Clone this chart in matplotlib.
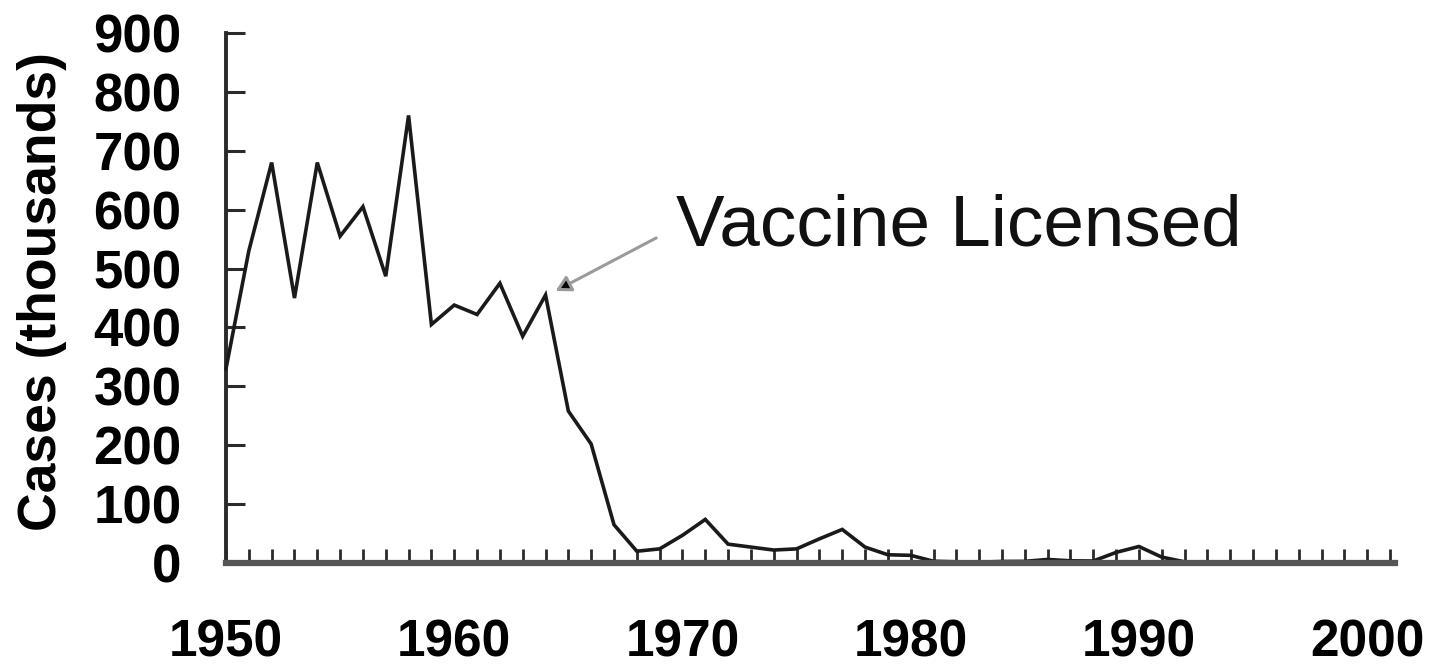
import matplotlib
matplotlib.use("Agg")
import matplotlib.pyplot as plt

years = list(range(1950, 2001))
cases = [330, 530, 680, 450, 680, 555, 605, 487, 760, 405,
         438, 422, 475, 385, 455, 258, 202, 65, 20, 24,
         47, 74, 32, 27, 22, 24, 41, 57, 27, 14,
         13, 3, 2, 1.5, 2.6, 2.8, 6, 3.7, 3.4, 18,
         28, 10, 2, 0.3, 1, 0.3, 0.5, 0.1, 0.1, 0.1, 0.1]
yticks = [0, 100, 200, 300, 400, 500, 600, 700, 800, 900]
tick_years = list(range(1950, 2002))
xlabels = [1950, 1960, 1970, 1980, 1990, 2000]
annot_text = "Vaccine Licensed"
annot_point = (1964.44, 462)
annot_tail = (1968.85, 552)
annot_textpos = (1969.72, 540)

W, H = 1430, 669
fig = plt.figure(figsize=(W / 100, H / 100), dpi=100)
fig.patch.set_facecolor("white")
ax = fig.add_axes([226 / W, 1 - 563 / H, (1395 - 226) / W, (563 - 33) / H])

ax.plot(years, cases, color="#1a1a1a", lw=2.6, solid_joinstyle="miter", zorder=3, clip_on=False)

ax.set_xlim(1950, 2001.22)
ax.set_ylim(0, 900)

for s in ["top", "right"]:
    ax.spines[s].set_visible(False)
ax.spines["left"].set_color("#2a2a2a")
ax.spines["left"].set_linewidth(2.8)
ax.spines["bottom"].set_color("#555555")
ax.spines["bottom"].set_linewidth(4.5)
ax.spines["bottom"].set_zorder(4)

bold = dict(family="Liberation Sans", weight="bold")

ax.set_yticks(yticks)
ax.set_yticklabels([str(v) for v in yticks], fontsize=38, **bold)
ax.tick_params(axis="y", direction="in", length=14, width=2.2, color="#2a2a2a", pad=32)

ax.set_xticks(tick_years)
ax.set_xticklabels([str(y) if y in xlabels else "" for y in tick_years], fontsize=37, **bold)
ax.tick_params(axis="x", direction="in", length=10, width=2.0, color="#2a2a2a", pad=40)

fig.text(42 / W, 1 - 292 / H, "Cases (thousands)", rotation=90, ha="center", va="center",
         fontsize=38.5, **bold)

ax.annotate("", xy=annot_point, xytext=annot_tail,
            arrowprops=dict(arrowstyle="-|>,head_length=0.9,head_width=0.5",
                            ec="#9a9a9a", fc="black", lw=2.2, shrinkA=0, shrinkB=0))
ax.text(annot_textpos[0], annot_textpos[1], annot_text, fontsize=52.5,
        family="Liberation Sans", ha="left", va="baseline", color="#111111")

fig.savefig("out.png", dpi=100, facecolor="white")
